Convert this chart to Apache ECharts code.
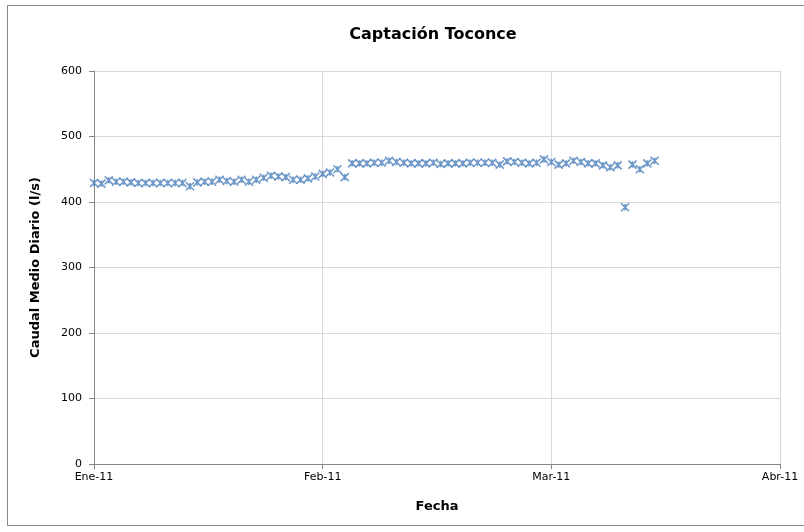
<!DOCTYPE html>
<html>
<head>
<meta charset="utf-8">
<script src="https://cdn.jsdelivr.net/npm/echarts@6/dist/echarts.min.js"></script>
<style>
  html, body { margin: 0; padding: 0; background: #fff; }
  #chart { width: 804px; height: 532px; }
</style>
</head>
<body>
<div id="chart"></div>
<script>
// daily flow, day 0 = 1 Jan 2011
var dayOffsets = [];
var caudal = [
  429, 428, 433, 431, 431, 430, 429, 429, 429, 429,
  429, 429, 429, 424, 430, 431, 431, 434, 432, 431,
  434, 431, 434, 437, 440, 439, 438, 434, 434, 436,
  439, 443, 445, 450, 438, 459, 459, 459, 460, 460,
  463, 461, 460, 459, 459, 459, 460, 458, 459, 459,
  459, 460, 460, 460, 460, 457, 462, 461, 460, 459,
  460, 465, 461, 457, 459, 463, 461, 459, 459, 456,
  453, 456, 392, 457, 450, 459, 463
];
for (var i = 0; i < caudal.length; i++) dayOffsets.push(i);

var xTickDays = [0, 31, 62, 93];
var xTickLabels = ['Ene-11', 'Feb-11', 'Mar-11', 'Abr-11'];

var points = dayOffsets.map(function (d, i) { return [d, caudal[i]]; });

var font = 'Verdana, "DejaVu Sans", sans-serif';

var option = {
  animation: false,
  title: {
    text: 'Captación Toconce',
    left: 428,
    top: 22,
    textAlign: 'center',
    textStyle: { fontFamily: font, fontSize: 16, fontWeight: 'bold', color: '#000' }
  },
  grid: { left: 94, right: 24, top: 71, bottom: 68 },
  xAxis: {
    type: 'value',
    min: xTickDays[0],
    max: xTickDays[xTickDays.length - 1],
    interval: 31,
    name: 'Fecha',
    nameLocation: 'middle',
    nameGap: 36,
    nameTextStyle: { fontFamily: font, fontSize: 13, fontWeight: 'bold', color: '#000' },
    axisLine: { lineStyle: { color: '#868686', width: 1 } },
    axisTick: { show: true, length: 5, lineStyle: { color: '#868686' } },
    axisLabel: {
      fontFamily: font, fontSize: 11, color: '#000', margin: 8,
      formatter: function (v) {
        var k = xTickDays.indexOf(v);
        return k >= 0 ? xTickLabels[k] : '';
      }
    },
    splitLine: { show: true, lineStyle: { color: '#d9d9d9' } }
  },
  yAxis: {
    type: 'value',
    min: 0,
    max: 600,
    interval: 100,
    name: 'Caudal Medio Diario (l/s)',
    nameLocation: 'middle',
    nameGap: 52,
    nameTextStyle: { fontFamily: font, fontSize: 13, fontWeight: 'bold', color: '#000' },
    axisLine: { show: true, lineStyle: { color: '#868686', width: 1 } },
    axisTick: { show: true, length: 5, lineStyle: { color: '#868686' } },
    axisLabel: { fontFamily: font, fontSize: 11, color: '#000', margin: 12 },
    splitLine: { show: true, lineStyle: { color: '#d9d9d9' } }
  },
  graphic: [{
    type: 'rect',
    shape: { x: 7.5, y: 5.5, width: 820, height: 520 },
    style: { fill: 'none', stroke: '#868686', lineWidth: 1 },
    z: -1
  }],
  series: [{
    type: 'scatter',
    data: points,
    symbol: 'path://M0,0L10,10M10,0L0,10M5,1L5,9',
    symbolSize: 8,
    itemStyle: { color: 'none', borderColor: '#4a7ebb', borderWidth: 1.6 }
  }]
};

var chart = echarts.init(document.getElementById('chart'));
chart.setOption(option);
window.addEventListener('resize', function () { chart.resize(); });
</script>
</body>
</html>
